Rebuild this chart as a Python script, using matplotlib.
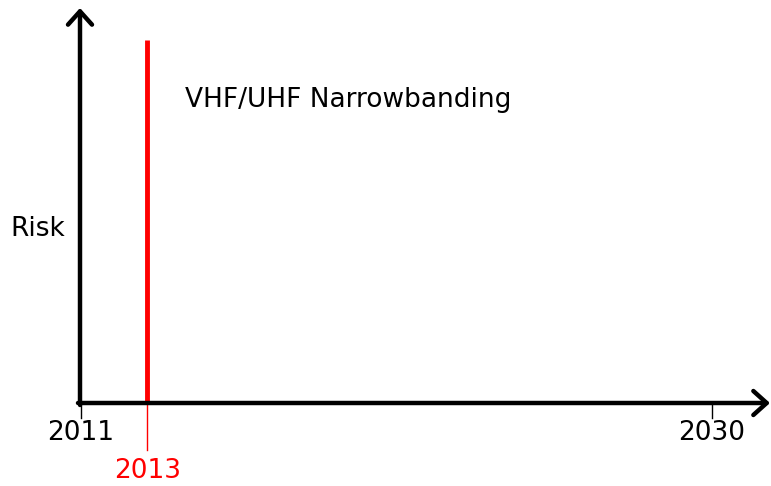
import matplotlib.pyplot as plt

# data
years = [2011, 2030]          # axis end labels
event_year = 2013
event_label = "VHF/UHF Narrowbanding"
y_label = "Risk"

W, H = 771, 486
fig = plt.figure(figsize=(W / 100, H / 100), dpi=100)
ax = fig.add_axes([0, 0, 1, 1])
ax.axis('off')

# map years to pixels: 2011 -> 81px, 2030 -> 712px
ppy = (712 - 81) / (years[1] - years[0])
x0 = years[0] - 81 / ppy
ax.set_xlim(x0, x0 + W / ppy)
# risk axis: 0 at baseline (403px from top), 1 at top of event line (40px)
ppu = 403 - 40
ax.set_ylim(-(H - 403) / ppu, 403 / ppu)

# axes with arrows
arrow = dict(arrowstyle='->,head_length=0.4,head_width=0.36', lw=3.2,
             color='black', mutation_scale=24, shrinkA=0, shrinkB=0,
             capstyle='round', joinstyle='round')
ax.annotate('', xy=(80, H - 8), xytext=(80, H - 405), xycoords='figure pixels',
            textcoords='figure pixels', arrowprops=arrow)
ax.annotate('', xy=(770, H - 403), xytext=(78, H - 403), xycoords='figure pixels',
            textcoords='figure pixels', arrowprops=arrow)

# ticks and labels at the ends
for yr in years:
    ax.plot([yr, yr], [0, -15 / ppu], color='black', lw=1)
    ax.text(yr, -30 / ppu, str(yr), ha='center', va='center', fontsize=19)

# event line
ax.plot([event_year, event_year], [0, 1], color='red', lw=3.5, solid_capstyle='butt')
ax.plot([event_year, event_year], [-47 / ppu, 0], color='red', lw=1)
ax.text(event_year, -68 / ppu, str(event_year), ha='center', va='center',
        fontsize=19, color='red')
ax.text(185, H - 100, event_label, transform=None, ha='left', va='center', fontsize=19)
ax.text(10, H - 229, y_label, transform=None, ha='left', va='center', fontsize=19)

fig.savefig('out.png', dpi=100)
